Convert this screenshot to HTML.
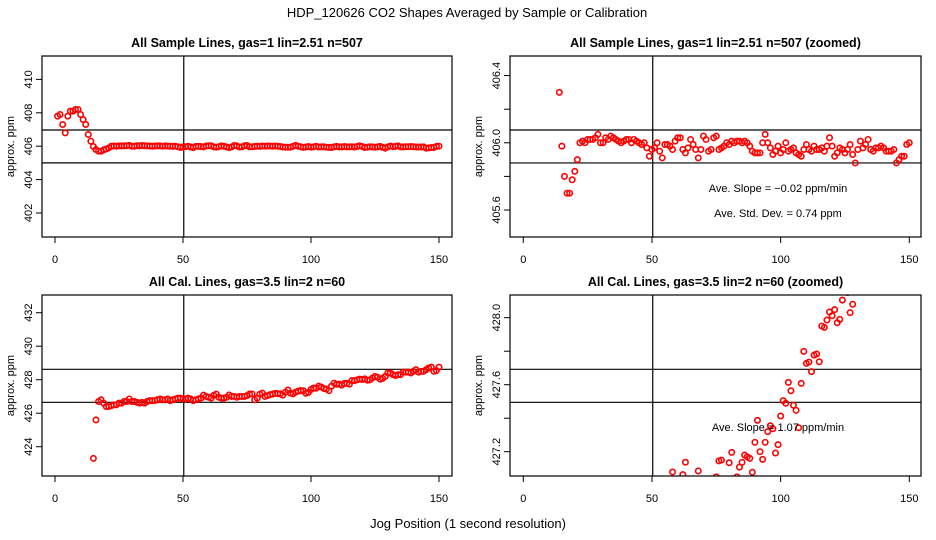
<!DOCTYPE html>
<html><head><meta charset="utf-8"><style>
html,body{margin:0;padding:0;background:#fff;width:936px;height:540px;overflow:hidden;}
svg{display:block;font-family:"Liberation Sans",sans-serif;}
</style></head><body>
<svg id="chart" width="936" height="540" viewBox="0 0 936 540">
<text x="467" y="17" text-anchor="middle" font-size="13">HDP_120626  CO2 Shapes Averaged by Sample or Calibration</text>
<text x="468" y="528" text-anchor="middle" font-size="13">Jog Position (1 second resolution)</text>
</svg>
<script>
// Sample series, jog positions 1..150
const sampleX = Array.from({length:150},(_, i)=>i+1);
const sampleY = [407.8,407.9,407.3,406.8,407.8,408.1,408.1,408.2,408.2,407.9,407.6,407.3,406.7,406.3,405.98,405.8,405.7,405.7,405.78,405.83,405.9,406.0,406.01,406.0,406.02,406.02,406.02,406.03,406.05,406.0,406.0,406.03,406.02,406.04,406.03,406.02,406.01,406.0,406.01,406.02,406.02,406.0,406.02,406.01,406.0,405.99,406.0,405.97,405.92,405.96,405.97,406.0,405.95,405.91,405.99,405.99,405.98,405.96,406.01,406.03,406.03,405.96,405.94,405.97,406.02,405.99,405.96,405.91,405.96,406.04,406.02,405.95,405.96,406.03,406.04,405.96,405.97,405.98,406.0,405.99,406.01,406.0,406.01,406.01,406.0,406.01,406.0,405.98,405.95,405.94,405.94,405.94,406.0,406.05,406.0,405.97,405.93,405.95,405.98,405.94,405.96,406.0,405.95,405.96,405.97,405.94,405.93,405.92,405.96,405.99,405.96,405.95,405.98,405.96,405.96,405.97,405.95,405.98,406.03,405.98,405.92,405.94,405.97,405.96,405.94,405.96,405.99,405.93,405.88,405.96,406.01,405.97,405.99,406.02,405.96,405.95,405.97,405.97,405.98,405.97,405.95,405.95,405.95,405.96,405.88,405.9,405.92,405.92,405.99,406.0];
// Calibration series, jog positions 1..150 (null = no data)
const calX = Array.from({length:150},(_, i)=>i+1);
const calY = [null,null,null,null,null,null,null,null,null,null,null,null,null,null,
423.3,425.6,426.7,426.8,426.6,426.4,426.4,
426.45,426.5,426.5,426.6,426.6,426.7,426.7,426.85,426.7,426.7,426.65,426.6,426.65,426.6,426.7,426.75,426.75,426.75,426.8,426.85,426.8,426.8,426.85,426.75,426.8,426.85,426.9,426.9,426.85,426.85,426.9,426.85,426.75,426.8,426.85,426.9,
427.079,427.0,426.95,426.9,427.063,427.137,426.95,426.9,426.9,426.95,427.085,427.0,427.0,426.95,427.0,427.0,427.0,427.05,427.145,427.15,426.8,426.9,427.134,427.196,427.0,427.05,427.108,427.136,427.18,427.17,427.16,427.077,427.256,427.387,427.2,427.154,427.256,427.32,427.355,427.337,427.192,427.242,427.413,427.505,427.489,427.614,427.564,427.477,427.447,427.343,427.608,427.799,427.727,427.735,427.678,427.777,427.783,427.737,427.95,427.942,427.986,428.034,428.012,428.048,427.97,427.99,428.105,428.2,428.15,428.03,428.08,
428.2,428.4,428.4,428.3,428.25,428.3,428.3,428.45,428.45,428.45,428.4,428.5,428.6,428.45,428.5,428.5,428.6,428.7,428.75,428.5,428.55,428.75];
const xTicks = [0,50,100,150];
const p1Ticks = [402,404,406,408,410];
const p2Ticks = [405.6,405.8,406.0,406.2,406.4];
const p2TickLabels = ["405.6","","406.0","","406.4"];
const p3Ticks = [424,426,428,430,432];
const p4Ticks = [427.2,427.4,427.6,427.8,428.0];
const p4TickLabels = ["427.2","","427.6","","428.0"];
const p1HLines = [406.97,405.0];
const p2HLines = [406.076,405.88];
const p3HLines = [428.62,426.65];
const p4HLines = [427.692,427.495];
const vLine = 50.3;

const NS="http://www.w3.org/2000/svg";
const svg=document.getElementById('chart');
function mk(tag,attrs,parent){const e=document.createElementNS(NS,tag);for(const k in attrs)e.setAttribute(k,attrs[k]);(parent||svg).appendChild(e);return e;}

const panels=[
 {name:'sample-full',title:'All Sample Lines, gas=1 lin=2.51 n=507',L:42,R:452,T:56,B:237,xs:[55,439],yref:[406,146.2,16.7],ticks:p1Ticks,labels:p1Ticks.map(String),h:p1HLines,xs_:sampleX,ys:sampleY,ann:[]},
 {name:'sample-zoomed',title:'All Sample Lines, gas=1 lin=2.51 n=507 (zoomed)',L:510,R:921,T:56,B:237,xs:[523.3,909.3],yref:[406,142.8,168],ticks:p2Ticks,labels:p2TickLabels,h:p2HLines,xs_:sampleX,ys:sampleY,ann:[['Ave. Slope =  \u22120.02  ppm/min',192],['Ave. Std. Dev. =  0.74  ppm',217]]},
 {name:'cal-full',title:'All Cal. Lines, gas=3.5 lin=2 n=60',L:42,R:452,T:295,B:476,xs:[55,439],yref:[428,379.7,16.75],ticks:p3Ticks,labels:p3Ticks.map(String),h:p3HLines,xs_:calX,ys:calY,ann:[]},
 {name:'cal-zoomed',title:'All Cal. Lines, gas=3.5 lin=2 n=60 (zoomed)',L:510,R:921,T:295,B:476,xs:[523.3,909.3],yref:[428,317.7,167.5],ticks:p4Ticks,labels:p4TickLabels,h:p4HLines,xs_:calX,ys:calY,ann:[['Ave. Slope =  1.07  ppm/min',431]]}
];

panels.forEach((p,pi)=>{
 const g=mk('g',{});
 
 
 const sx=v=>p.xs[0]+(v/150)*(p.xs[1]-p.xs[0]);
 const sy=v=>p.yref[1]-(v-p.yref[0])*p.yref[2];
 const t=mk('text',{x:(p.L+p.R)/2,y:p.T-9,'text-anchor':'middle','font-size':12.5,'font-weight':'bold'},g);
 t.textContent=p.title;
 
 
 const cid='clip'+pi;
 const cp=mk('clipPath',{id:cid},g);
 mk('rect',{x:p.L,y:p.T,width:p.R-p.L,height:p.B-p.T},cp);
 p.h.forEach(v=>{const l=mk('line',{x1:p.L,x2:p.R,y1:sy(v),y2:sy(v),stroke:'#000','stroke-width':1.2},g);
  
  });
 const vl=mk('line',{x1:sx(vLine),x2:sx(vLine),y1:p.T,y2:p.B,stroke:'#000','stroke-width':1.2},g);
 
 
 const pg=mk('g',{'clip-path':'url(#'+cid+')'},g);
 p.xs_.forEach((x,i)=>{const y=p.ys[i];if(y==null)return;
  const cx=sx(x),cy=sy(y);
  if(cy<p.T-4||cy>p.B+4||cx<p.L-4||cx>p.R+4)return;
  const c=mk('circle',{cx:cx,cy:cy,r:2.7,fill:'none',stroke:'#f00','stroke-width':1.6},pg);
  
  });
 const bx=mk('rect',{x:p.L,y:p.T,width:p.R-p.L,height:p.B-p.T,fill:'none',stroke:'#000','stroke-width':1.2},g);
 
 
 xTicks.forEach(v=>{const x=sx(v);mk('line',{x1:x,x2:x,y1:p.B,y2:p.B+6,stroke:'#000'},g);
  const tt=mk('text',{x:x,y:p.B+26,'text-anchor':'middle','font-size':11},g);tt.textContent=v;
  
  });
 p.ticks.forEach((v,i)=>{const y=sy(v);mk('line',{x1:p.L-6,x2:p.L,y1:y,y2:y,stroke:'#000'},g);
  if(p.labels[i]){const tt=mk('text',{x:0,y:0,'text-anchor':'middle','font-size':11,transform:`translate(${p.L-10},${y}) rotate(-90)`},g);tt.textContent=p.labels[i];
  
  }});
 const yl=mk('text',{x:0,y:0,'text-anchor':'middle','font-size':11,transform:`translate(${p.L-28},${(p.T+p.B)/2}) rotate(-90)`},g);
 yl.textContent='approx. ppm';
 
 
 p.ann.forEach(a=>{const at=mk('text',{x:778,y:a[1],'text-anchor':'middle','font-size':11},g);at.textContent=a[0];
  
  });
});
</script>
</body></html>
